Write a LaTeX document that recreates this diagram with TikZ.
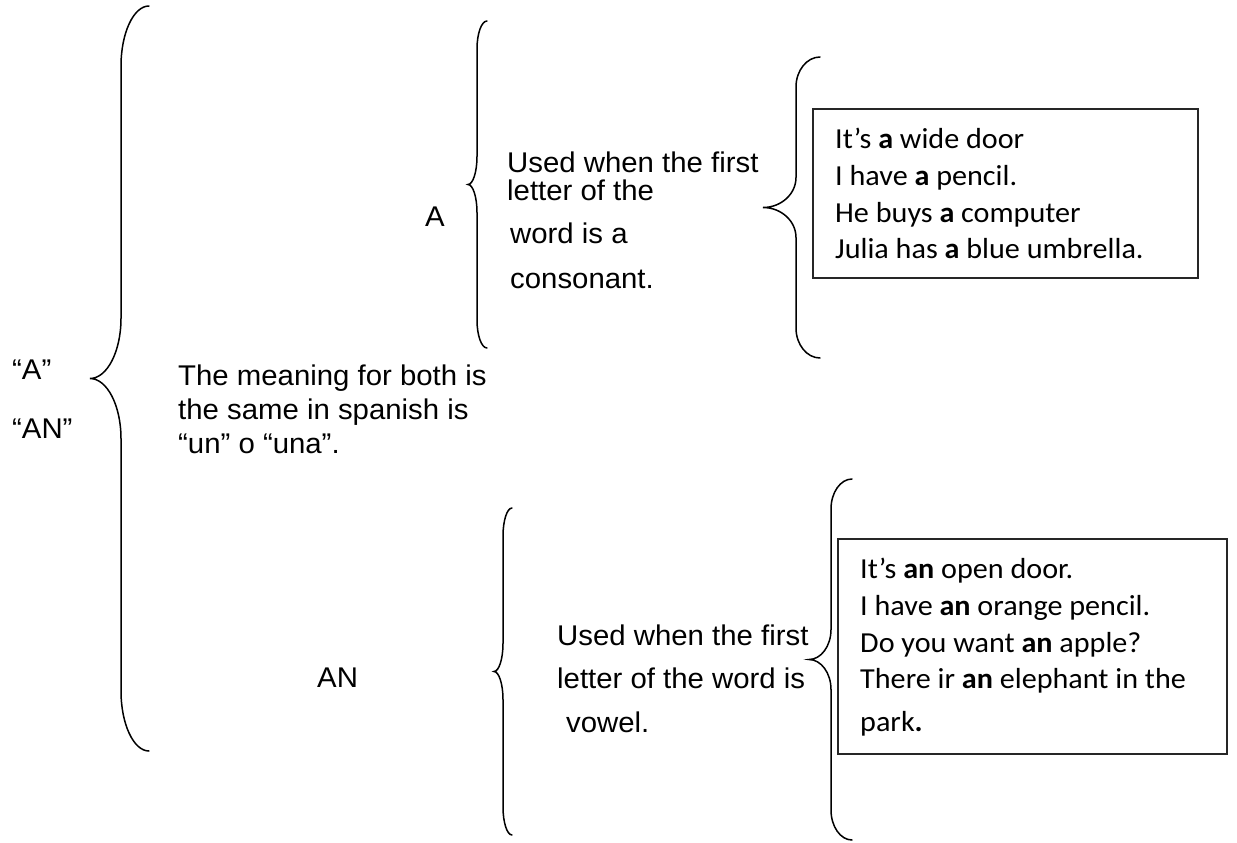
\documentclass[tikz,border=0pt]{standalone}
\usepackage{fontspec}
\setmainfont{Liberation Sans}[FakeStretch=1.03]
\newfontfamily\exfont{Carlito}[FakeStretch=1.04]
\newcommand\mybrace[6]{% end x, line x, tip x, top y, bottom y, corner
  \draw[brc] (#1,#4) .. controls ({#2+0.45*(#1-#2)},#4) and (#2,{#4+0.45*#6}) .. (#2,{#4+#6})
    -- (#2,{(#4+#5)/2-#6})
    .. controls (#2,{(#4+#5)/2-0.45*#6}) and ({#3+0.55*(#2-#3)},{(#4+#5)/2}) .. (#3,{(#4+#5)/2})
    .. controls ({#3+0.55*(#2-#3)},{(#4+#5)/2}) and (#2,{(#4+#5)/2+0.45*#6}) .. (#2,{(#4+#5)/2+#6})
    -- (#2,{#5-#6})
    .. controls (#2,{#5-0.45*#6}) and ({#2+0.45*(#1-#2)},#5) .. (#1,#5);}
\tikzset{
  lbl/.style={anchor=base west, inner sep=0pt, font=\fontsize{28.5}{34}\selectfont},
  ex/.style={anchor=base west, inner sep=0pt, font=\exfont\fontsize{29}{36}\selectfont},
  brc/.style={line width=1.5pt, line cap=round},
  exbox/.style={draw=black!85, line width=1.8pt, inner sep=0pt}
}
\begin{document}
\begin{tikzpicture}[x=1pt,y=-1pt]
\useasboundingbox (0,0) rectangle (1237,843);
% braces
\mybrace{149}{121}{90}{6}{751}{60}
\mybrace{487}{477}{468}{21}{348}{28}
\mybrace{820}{796}{763}{57}{358}{30}
\mybrace{512}{503}{494}{508}{835}{28}
\mybrace{852}{831}{809}{479}{840}{30}
% left labels
\node[lbl] (qa) at (12,379) {“A”};
\node[lbl] (qan) at (12,438) {“AN”};
\node[lbl] (m1) at (178,385) {The meaning for both is};
\node[lbl] (m2) at (178,419) {the same in spanish is};
\node[lbl] (m3) at (178,453) {“un” o “una”.};
% A branch
\node[lbl] (la) at (425,226) {A};
\node[lbl] (ua1) at (507,172) {Used when the first};
\node[lbl] (ua2) at (507,200) {letter of the};
\node[lbl] (ua3) at (510,243) {word is a};
\node[lbl] (ua4) at (510,288) {consonant.};
\node[exbox, minimum width=385pt, minimum height=169pt] (box1) at (1005.5,193.5) {};
\node[ex] (ea1) at (835,148) {It’s \textbf{a} wide door};
\node[ex] (ea2) at (835,185) {I have \textbf{a} pencil.};
\node[ex] (ea3) at (835,222) {He buys \textbf{a} computer};
\node[ex] (ea4) at (835,258) {Julia has \textbf{a} blue umbrella.};
% AN branch
\node[lbl] (lan) at (317,687) {AN};
\node[lbl] (un1) at (557,645) {Used when the first};
\node[lbl] (un2) at (557,688) {letter of the word is};
\node[lbl] (un3) at (566,732) {vowel.};
\node[exbox, minimum width=389pt, minimum height=215pt] (box2) at (1032.5,646.5) {};
\node[ex] (en1) at (860,578) {It’s \textbf{an} open door.};
\node[ex] (en2) at (860,615) {I have \textbf{an} orange pencil.};
\node[ex] (en3) at (860,652) {Do you want \textbf{an} apple?};
\node[ex] (en4) at (860,688) {There ir \textbf{an} elephant in the};
\node[ex] (en5) at (860,731) {park\textbf{.}};
\end{tikzpicture}
\end{document}
